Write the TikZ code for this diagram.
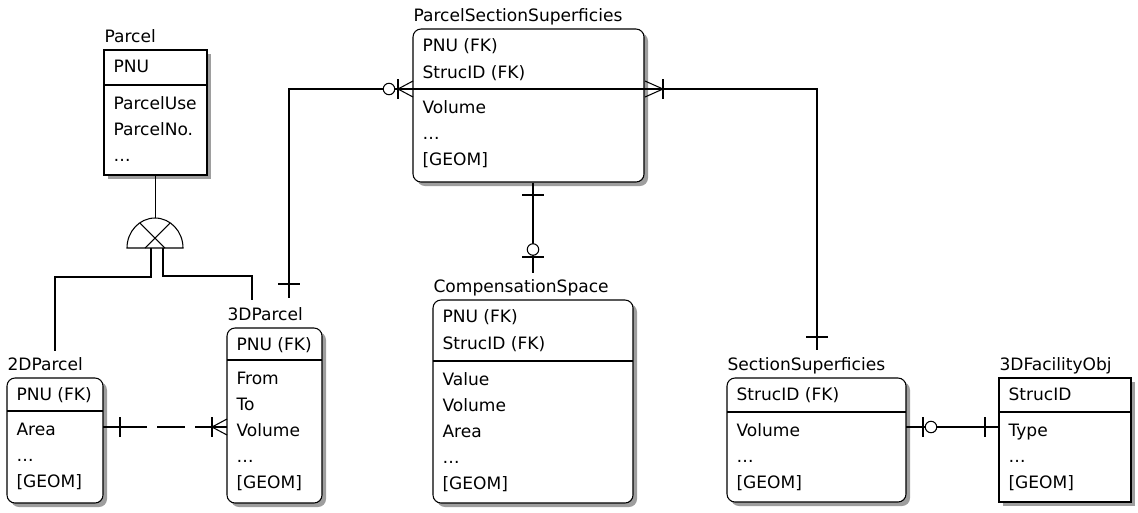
\documentclass[tikz,border=0pt]{standalone}
\usepackage{fontspec}
\setmainfont{DejaVu Sans}
\usetikzlibrary{fit,calc}
\tikzstyle{ent}=[draw, fill=white]
\tikzstyle{sq}=[sharp corners]
\tikzstyle{rd}=[rounded corners=6pt]
\tikzstyle{shade}=[fill=black!38]
\tikzstyle{lbl}=[inner sep=0pt, anchor=base west, font=\fontsize{12.8}{15}\selectfont]
\tikzstyle{tick}=[line width=0.8pt]

\begin{document}
\begin{tikzpicture}[x=0.75pt, y=-0.75pt, line width=0.8pt]
\useasboundingbox (0,0) rectangle (1138,512);
% entities: name/title/left/top/right/bottom/key line/corners/keys/attributes
\foreach \n/\t/\xa/\ya/\xb/\yb/\yh/\c/\keys/\attrs in {
 parcel/Parcel/104/50/207/175/85/sq/{PNU}/{ParcelUse,ParcelNo.,\ldots},
 ptwo/2DParcel/7/378/103/503/411/rd/{PNU (FK)}/{Area,\ldots,[GEOM]},
 pthree/3DParcel/227/328/322/503/360/rd/{PNU (FK)}/{From,To,Volume,\ldots,[GEOM]},
 pss/ParcelSectionSuperficies/413/29/644/182/89/rd/{PNU (FK),StrucID (FK)}/{Volume,\ldots,[GEOM]},
 cs/CompensationSpace/433/300/633/503/361/rd/{PNU (FK),StrucID (FK)}/{Value,Volume,Area,\ldots,[GEOM]},
 ss/SectionSuperficies/727/378/906/502/412/rd/{StrucID (FK)}/{Volume,\ldots,[GEOM]},
 fac/3DFacilityObj/999/378/1131/502/412/sq/{StrucID}/{Type,\ldots,[GEOM]}}{
 \fill[shade, \c] (\xa+4,\ya+4) rectangle (\xb+4,\yb+4);
 \draw[ent, \c] (\xa,\ya) rectangle (\xb,\yb);
 \draw (\xa,\yh) -- (\xb,\yh);
 \node[inner sep=0pt, fit={(\xa,\ya) (\xb,\yb)}] (\n) {};
 \node[lbl] (\n-t) at (\xa,\ya-8) {\t};
 \foreach \k [count=\i] in \keys
  \node[lbl] (\n-k\i) at (\xa+9,\ya-5+27*\i) {\k};
 \foreach \a [count=\i] in \attrs
  \node[lbl] (\n-a\i) at (\xa+9,\yh-2+26*\i) {\a};
}

% subtype symbol
\coordinate (sub) at (155,248);
\coordinate (sub-top) at (155,218);
\coordinate (sub-l) at (151,248);
\coordinate (sub-r) at (163,248);
\draw (sub) ++(-28,0) arc[start angle=180, end angle=360, x radius=28, y radius=30] -- cycle;
\draw (140,223) -- (165,248) (170,223) -- (145,248);
\draw (parcel.south) -- (parcel.south |- sub-top);

% connector ends
\coordinate (ptwo-in) at (55,351);
\coordinate (pthree-in) at (252,300);
\coordinate (pthree-top) at (289,298);
\coordinate (pss-l) at (413,89);
\coordinate (pss-r) at (644,89);
\coordinate (ss-top) at (817,350);
\coordinate (cs-top) at (533,273);
\coordinate (ptwo-r) at (103,427);
\coordinate (pthree-l) at (227,427);
\coordinate (ss-r) at (906,427);
\coordinate (fac-l) at (999,427);

\draw (sub-l) -- ++(0,29) -| (ptwo-in);
\draw (sub-r) -- ++(0,28) -| (pthree-in);
\draw (pss-l) -| (pthree-top);
\draw (pss-r) -| (ss-top);
\draw (pss.south -| cs-top) -- (cs-top);
\draw (ss-r) -- (fac-l);
\draw[dash pattern=on 33pt off 7.5pt on 21pt off 7.5pt on 30pt] (ptwo-r) -- (pthree-l);

% cardinality marks
\foreach \x/\y in {120/427, 212/427, 923/427, 985/427, 398/89, 663/89}
 \draw[tick] (\x,\y-10) -- (\x,\y+10);
\foreach \x/\y in {289/284, 533/195, 533/257, 817/337}
 \draw[tick] (\x-11,\y) -- (\x+11,\y);
\foreach \x/\y/\d in {212/427/15, 398/89/15, 663/89/-18}
 \draw[tick] (\x+\d,\y-8) -- (\x,\y) -- (\x+\d,\y+8);
\foreach \x/\y in {389/89, 533/249.5, 931/427}
 \draw[tick, fill=white] (\x,\y) circle[radius=4.3pt];
\end{tikzpicture}
\end{document}
